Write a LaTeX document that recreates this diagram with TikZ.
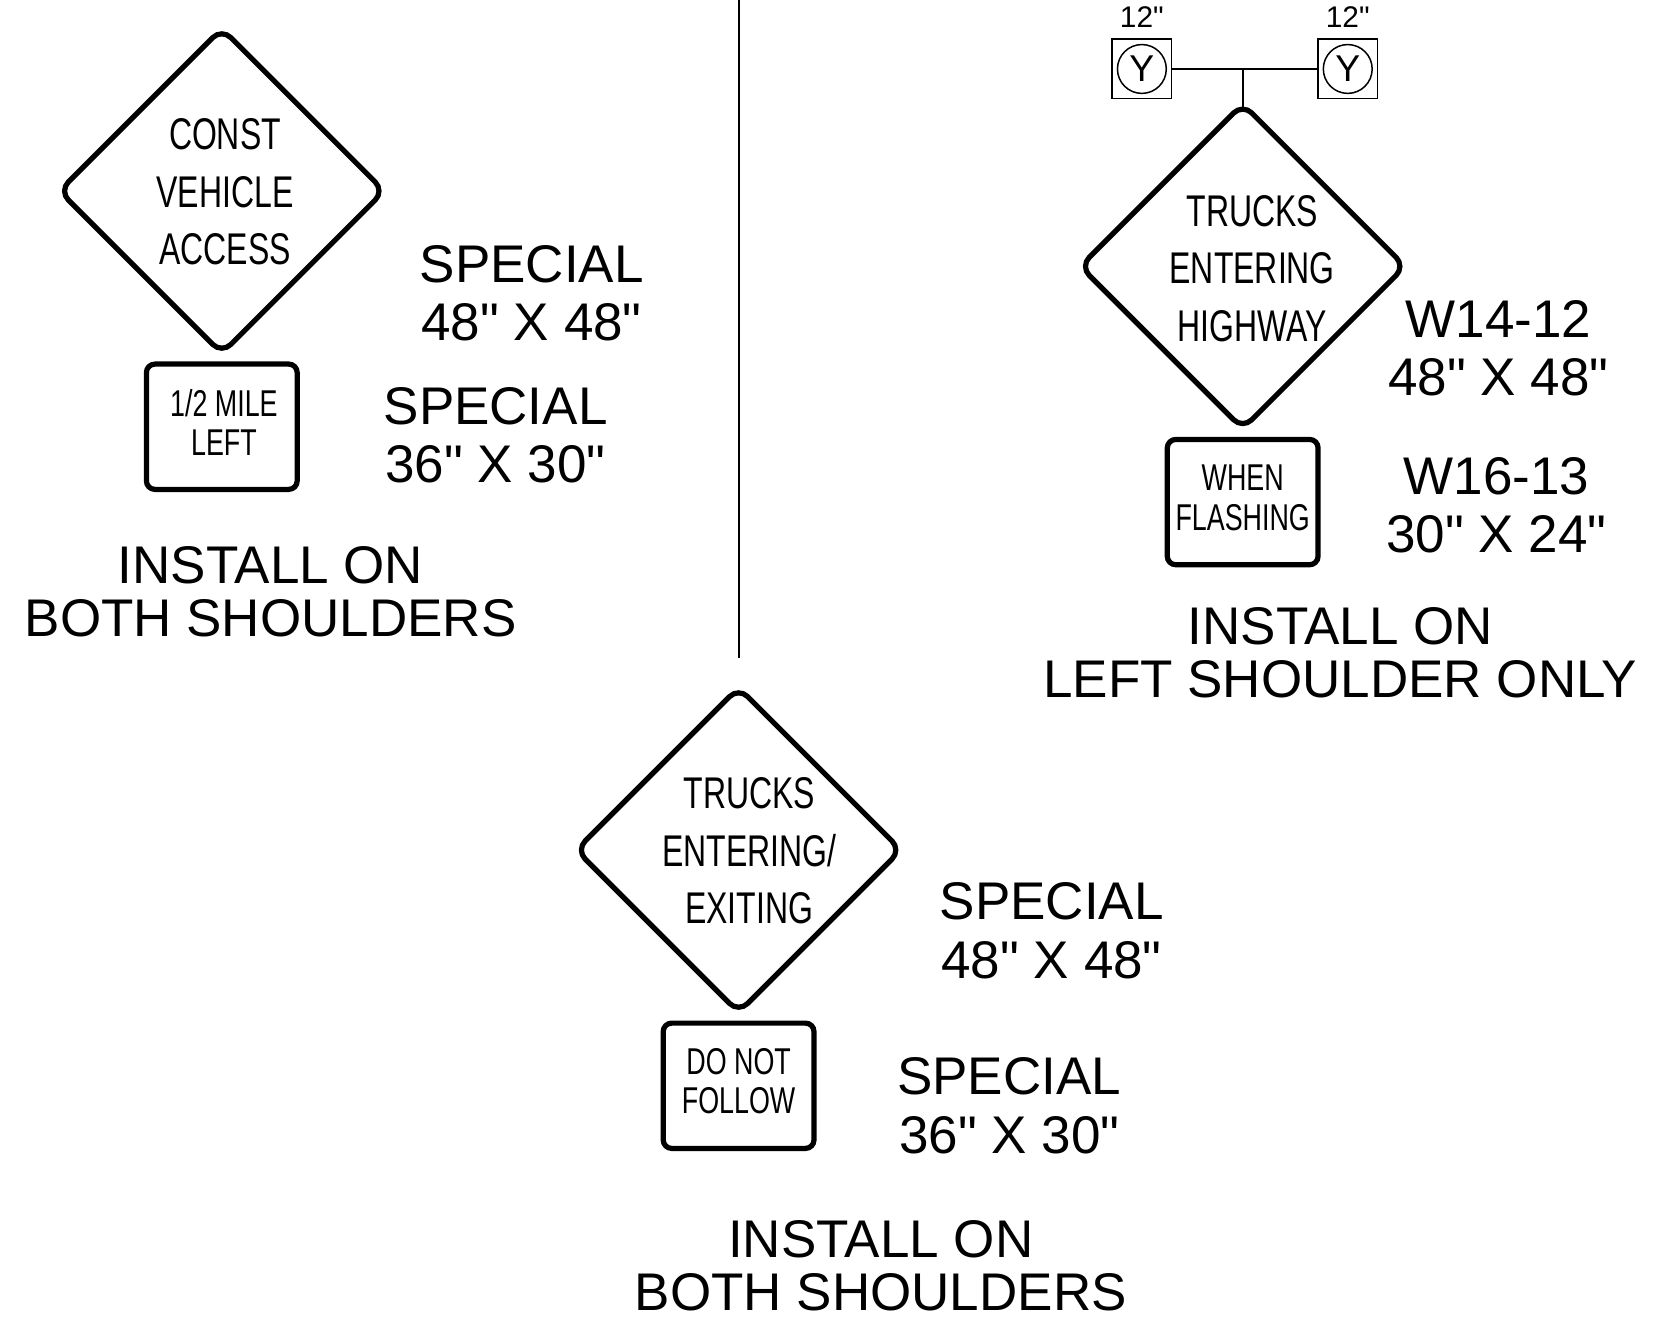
\documentclass[tikz,border=0pt]{standalone}
\usepackage{fontspec}
\setmainfont{Liberation Sans}[Ligatures=TeXOff]
\newfontfamily\narrowfont[FakeStretch=0.72]{Liberation Sans}
\usetikzlibrary{%
   positioning,%
   shapes.geometric%
}

\begin{document}
\begin{tikzpicture}[x=0.01cm,y=-0.01cm,
	warnsign/.style={
	diamond,
	minimum size=3.06cm,
	inner sep=0pt,outer sep=0pt,
	line width=1.4pt,
	rounded corners=1.2mm,
	draw=black
	},signtext/.style={
	align=center,
	font=\narrowfont\fontsize{11.9}{15.4}\selectfont
	},plate/.style={
	rectangle,
	minimum width=1.42cm,minimum height=1.18cm,
	inner sep=0pt,outer sep=0pt,
	line width=1.4pt,rounded corners=0.8mm,
	draw=black
	},platetext/.style={
	align=center,
	font=\narrowfont\fontsize{10}{10.5}\selectfont
	},sizetext/.style={
	align=center,
	font=\fontsize{14.2}{15.6}\selectfont
	},installtext/.style={
	align=center,
	font=\fontsize{14.2}{14.2}\selectfont
	},lamp/.style={
	rectangle,minimum size=0.56cm,inner sep=0pt,outer sep=0pt,
	draw=black,line width=0.4pt
	},lens/.style={
	circle,minimum size=0.46cm,inner sep=0pt,
	draw=black,line width=0.4pt,
	font=\fontsize{10}{10}\selectfont
	},dimtext/.style={
	inner sep=0pt,
	font=\fontsize{8}{8}\selectfont
	}
]
\useasboundingbox (0,0) rectangle (1568,1255);

% divider
\draw[line width=0.5pt] (696,0) -- (696,620);

% left sign
\node (sign1) [warnsign] at (209,180) {};
\node (txt1) [signtext] at (212,181) {CONST\\VEHICLE\\ACCESS};
\node (plate1) [plate,below=0.1cm of sign1] {};
\node (ptxt1) [platetext] at ([xshift=0.02cm,yshift=0.04cm]plate1.center) {1/2 MILE\\LEFT};
\node (size1) [sizetext] at (501,276) {SPECIAL\\48" X 48"};
\node (size2) [sizetext] at (467,410) {SPECIAL\\36" X 30"};
\node (inst1) [installtext] at (255,558) {INSTALL ON\\BOTH SHOULDERS};

% right sign with beacons
\node (lamp1) [lamp] at (1076,65) {};
\node (lens1) [lens] at (lamp1) {Y};
\node (lamp2) [lamp] at (1270,65) {};
\node (lens2) [lens] at (lamp2) {Y};
\node (dim1) [dimtext,above=0.1cm of lamp1] {12"};
\node (dim2) [dimtext,above=0.1cm of lamp2] {12"};
\coordinate (hub) at (1171,65);
\node (sign2) [warnsign] at (1171,251) {};
\node (txt2) [signtext] at (1180,253) {TRUCKS\\ENTERING\\HIGHWAY};
\node (plate2) [plate,below=0.1cm of sign2] {};
\node (ptxt2) [platetext] at ([yshift=0.04cm]plate2.center) {WHEN\\FLASHING};
\node (size3) [sizetext] at (1412,328) {W14-12\\48" X 48"};
\node (size4) [sizetext] at (1410,476) {W16-13\\30" X 24"};
\node (inst2) [installtext] at (1263,615) {INSTALL ON\\LEFT SHOULDER ONLY};

\draw[line width=0.5pt] (lamp1) -- (lamp2);
\draw[line width=0.5pt] (hub) -- ([yshift=-0.05cm]sign2.north);

% bottom sign
\node (sign3) [warnsign] at (696,801) {};
\node (txt3) [signtext] at (706,802) {TRUCKS\\ENTERING/\\EXITING};
\node (plate3) [plate,below=0.1cm of sign3] {};
\node (ptxt3) [platetext] at ([yshift=0.045cm]plate3.center) {DO NOT\\FOLLOW};
\node (size5) [sizetext] at (991,877) {SPECIAL\\48" X 48"};
\node (size6) [sizetext] at (951,1042) {SPECIAL\\36" X 30"};
\node (inst3) [installtext] at (830,1193) {INSTALL ON\\BOTH SHOULDERS};

\end{tikzpicture}
\end{document}
